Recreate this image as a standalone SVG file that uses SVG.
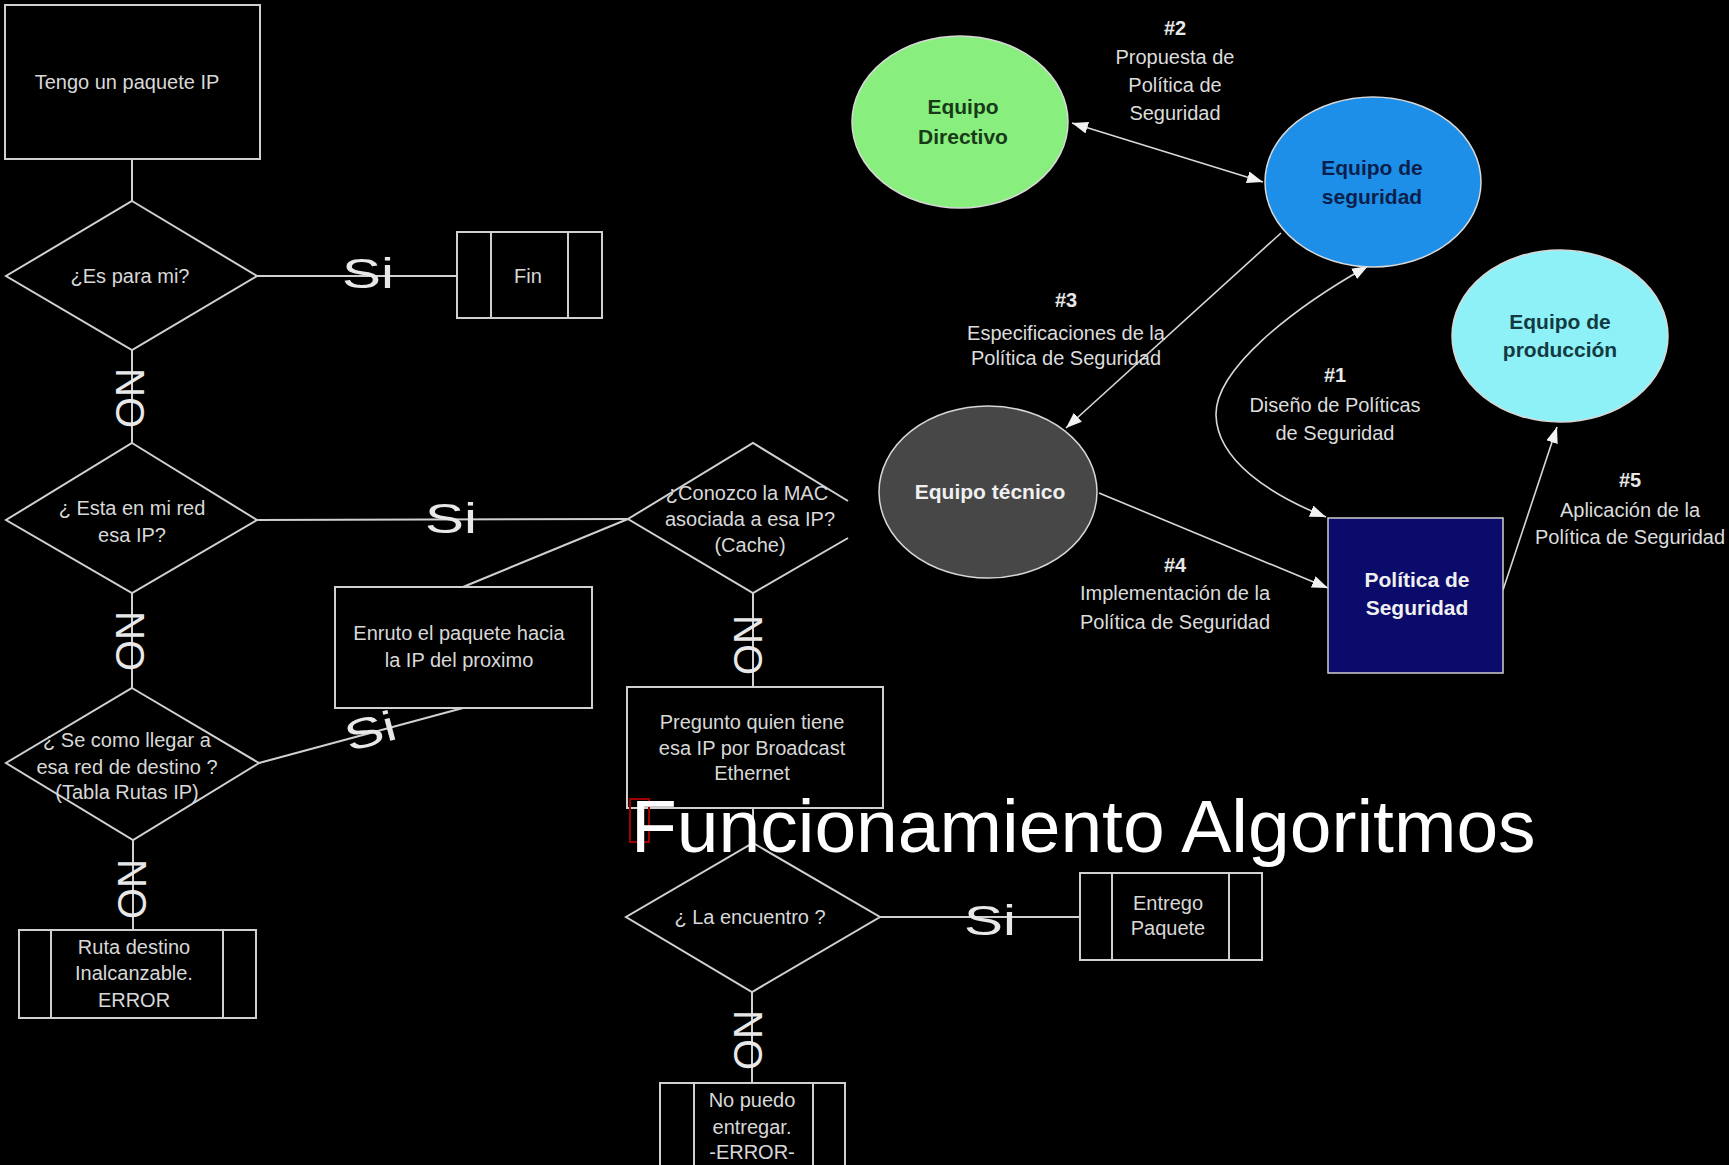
<svg xmlns="http://www.w3.org/2000/svg" width="1729" height="1165" viewBox="0 0 1729 1165">
<defs>
<style>
.fl{fill:none;stroke:#d0d0d0;stroke-width:2}
.ft{font-family:"Liberation Sans",Arial,sans-serif;font-size:20px;fill:#d8d8d8;text-anchor:middle}
.si{font-family:"Liberation Sans",Arial,sans-serif;font-size:42px;fill:#e8e8e8;text-anchor:middle}
.no{font-family:"Liberation Sans",Arial,sans-serif;font-size:40px;fill:#e8e8e8;text-anchor:middle;dominant-baseline:central}
.ar{fill:none;stroke:#d8d8d8;stroke-width:1.6}
.lb{font-family:"Liberation Sans",Arial,sans-serif;font-size:20px;fill:#dcdcdc;text-anchor:middle}
.lbb{font-family:"Liberation Sans",Arial,sans-serif;font-size:20px;font-weight:bold;fill:#e8e8e8;text-anchor:middle}
.nt{font-family:"Liberation Sans",Arial,sans-serif;font-size:21px;font-weight:bold;text-anchor:middle}
.el{stroke:#d8d8d8;stroke-width:1.5}
</style>
<marker id="ah" viewBox="0 0 16 12" refX="16" refY="6" markerWidth="16" markerHeight="12" markerUnits="userSpaceOnUse" orient="auto-start-reverse">
<path d="M0,0 L16,6 L0,12 z" fill="#f2f2f2"/>
</marker>
</defs>
<rect x="0" y="0" width="1729" height="1165" fill="#000"/>

<g id="connectors">
<line class="fl" x1="132" y1="159" x2="132" y2="201"/>
<line class="fl" x1="132" y1="350" x2="132" y2="443"/>
<line class="fl" x1="132" y1="593" x2="132" y2="688"/>
<line class="fl" x1="133" y1="840" x2="133" y2="930"/>
<line class="fl" x1="257" y1="276" x2="457" y2="276"/>
<line class="fl" x1="257" y1="520" x2="628" y2="519"/>
<line class="fl" x1="628" y1="519" x2="463" y2="587"/>
<line class="fl" x1="259" y1="763" x2="463" y2="708"/>
<line class="fl" x1="753" y1="593" x2="753" y2="687"/>
<line class="fl" x1="753" y1="808" x2="753" y2="843"/>
<line class="fl" x1="880" y1="917" x2="1080" y2="917"/>
<line class="fl" x1="752" y1="992" x2="752" y2="1083"/>
<text class="si" x="368" y="288" textLength="52" lengthAdjust="spacingAndGlyphs">Si</text>
<text class="si" x="451" y="533" textLength="52" lengthAdjust="spacingAndGlyphs">Si</text>
<text class="si" x="990" y="935" textLength="52" lengthAdjust="spacingAndGlyphs">Si</text>
<text class="si" transform="translate(374,745) rotate(-15)" x="0" y="0" textLength="52" lengthAdjust="spacingAndGlyphs">Si</text>
<text class="no" transform="translate(130,398) rotate(90)">NO</text>
<text class="no" transform="translate(130,641) rotate(90)">NO</text>
<text class="no" transform="translate(132,889) rotate(90)">NO</text>
<text class="no" transform="translate(748,645) rotate(90)">NO</text>
<text class="no" transform="translate(748,1040) rotate(90)">NO</text>

<line class="ar" x1="1072" y1="123" x2="1263" y2="182" marker-start="url(#ah)" marker-end="url(#ah)"/>
<line class="ar" x1="1281" y1="233" x2="1066" y2="428" marker-end="url(#ah)"/>
<path class="ar" d="M1368,266 C1290,310 1215,370 1216,415 C1217,460 1270,495 1326,517" marker-start="url(#ah)" marker-end="url(#ah)"/>
<line class="ar" x1="1099" y1="493" x2="1328" y2="588" marker-end="url(#ah)"/>
<line class="ar" x1="1503" y1="590" x2="1557" y2="427" marker-end="url(#ah)"/>
<text class="lbb" x="1175" y="35">#2</text>
<text class="lb" x="1175" y="64">Propuesta de</text>
<text class="lb" x="1175" y="92">Política de</text>
<text class="lb" x="1175" y="120">Seguridad</text>
<text class="lbb" x="1066" y="307">#3</text>
<text class="lb" x="1066" y="340">Especificaciones de la</text>
<text class="lb" x="1066" y="365">Política de Seguridad</text>
<text class="lbb" x="1335" y="382">#1</text>
<text class="lb" x="1335" y="412">Diseño de Políticas</text>
<text class="lb" x="1335" y="440">de Seguridad</text>
<text class="lbb" x="1175" y="572">#4</text>
<text class="lb" x="1175" y="600">Implementación de la</text>
<text class="lb" x="1175" y="629">Política de Seguridad</text>
<text class="lbb" x="1630" y="487">#5</text>
<text class="lb" x="1630" y="517">Aplicación de la</text>
<text class="lb" x="1630" y="544">Política de Seguridad</text>
</g>

<g id="n-tengo">
<rect class="fl" x="5" y="5" width="255" height="154"/>
<text class="ft" x="127" y="89">Tengo un paquete IP</text>
</g>
<g id="n-esparami">
<polygon class="fl" points="132,201 257,276 132,350 6,276"/>
<text class="ft" x="130" y="283">¿Es para mi?</text>
</g>
<g id="n-fin">
<rect class="fl" x="457" y="232" width="145" height="86"/>
<line class="fl" x1="491" y1="232" x2="491" y2="318"/>
<line class="fl" x1="568" y1="232" x2="568" y2="318"/>
<text class="ft" x="528" y="283">Fin</text>
</g>
<g id="n-estaenmired">
<polygon class="fl" points="132,443 257,520 132,593 6,520"/>
<text class="ft" x="132" y="515">¿ Esta en mi red</text>
<text class="ft" x="132" y="542">esa IP?</text>
</g>
<g id="n-enruto">
<rect class="fl" x="335" y="587" width="257" height="121"/>
<text class="ft" x="459" y="640">Enruto el paquete hacia</text>
<text class="ft" x="459" y="667">la IP del proximo</text>
</g>
<g id="n-secomo">
<polygon class="fl" points="132,688 259,763 133,840 6,763"/>
<text class="ft" x="127" y="747">¿ Se como llegar a</text>
<text class="ft" x="127" y="774">esa red de destino ?</text>
<text class="ft" x="127" y="799">(Tabla Rutas IP)</text>
</g>
<g id="n-ruta">
<rect class="fl" x="19" y="930" width="237" height="88"/>
<line class="fl" x1="51" y1="930" x2="51" y2="1018"/>
<line class="fl" x1="223" y1="930" x2="223" y2="1018"/>
<text class="ft" x="134" y="954">Ruta destino</text>
<text class="ft" x="134" y="980">Inalcanzable.</text>
<text class="ft" x="134" y="1007">ERROR</text>
</g>
<g id="n-conozco">
<polyline class="fl" points="848,501 753,443 628,519 753,593 848,538"/>
<text class="ft" x="747" y="500">¿Conozco la MAC</text>
<text class="ft" x="750" y="526">asociada a esa IP?</text>
<text class="ft" x="750" y="552">(Cache)</text>
</g>
<g id="n-pregunto">
<rect class="fl" x="627" y="687" width="256" height="121"/>
<text class="ft" x="752" y="729">Pregunto quien tiene</text>
<text class="ft" x="752" y="755">esa IP por Broadcast</text>
<text class="ft" x="752" y="780">Ethernet</text>
</g>
<g id="n-encuentro">
<polygon class="fl" points="753,843 880,917 752,992 626,917"/>
<text class="ft" x="750" y="924">¿ La encuentro ?</text>
</g>
<g id="n-entrego">
<rect class="fl" x="1080" y="873" width="182" height="87"/>
<line class="fl" x1="1112" y1="873" x2="1112" y2="960"/>
<line class="fl" x1="1229" y1="873" x2="1229" y2="960"/>
<text class="ft" x="1168" y="910">Entrego</text>
<text class="ft" x="1168" y="935">Paquete</text>
</g>
<g id="n-nopuedo">
<rect class="fl" x="660" y="1083" width="185" height="100"/>
<line class="fl" x1="694" y1="1083" x2="694" y2="1170"/>
<line class="fl" x1="813" y1="1083" x2="813" y2="1170"/>
<text class="ft" x="752" y="1107">No puedo</text>
<text class="ft" x="752" y="1134">entregar.</text>
<text class="ft" x="752" y="1159">-ERROR-</text>
</g>

<g id="n-directivo">
<ellipse class="el" cx="960" cy="122" rx="108" ry="86" fill="#88ef7e"/>
<text class="nt" x="963" y="114" fill="#183a18">Equipo</text>
<text class="nt" x="963" y="144" fill="#183a18">Directivo</text>
</g>
<g id="n-seguridad">
<ellipse class="el" cx="1373" cy="182" rx="108" ry="85" fill="#1e8fe8"/>
<text class="nt" x="1372" y="175" fill="#0a1f4c">Equipo de</text>
<text class="nt" x="1372" y="204" fill="#0a1f4c">seguridad</text>
</g>
<g id="n-produccion">
<ellipse class="el" cx="1560" cy="336" rx="108" ry="86" fill="#8ef1f8"/>
<text class="nt" x="1560" y="329" fill="#123a40">Equipo de</text>
<text class="nt" x="1560" y="357" fill="#123a40">producción</text>
</g>
<g id="n-tecnico">
<ellipse class="el" cx="988" cy="492" rx="109" ry="86" fill="#474747"/>
<text class="nt" x="990" y="499" fill="#f0f0f0">Equipo técnico</text>
</g>
<g id="n-politica">
<rect x="1328" y="518" width="175" height="155" fill="#0b0b6b" stroke="#d0d0d0" stroke-width="1.5"/>
<text class="nt" x="1417" y="587" fill="#f0f0f0">Política de</text>
<text class="nt" x="1417" y="615" fill="#f0f0f0">Seguridad</text>
</g>

<g id="title">
<rect x="630" y="799" width="19" height="43" fill="none" stroke="#a00000" stroke-width="2"/>
<text x="631" y="852" font-family="Liberation Sans, Arial, sans-serif" font-size="75" fill="#ffffff">Funcionamiento Algoritmos</text>
</g>
</svg>
